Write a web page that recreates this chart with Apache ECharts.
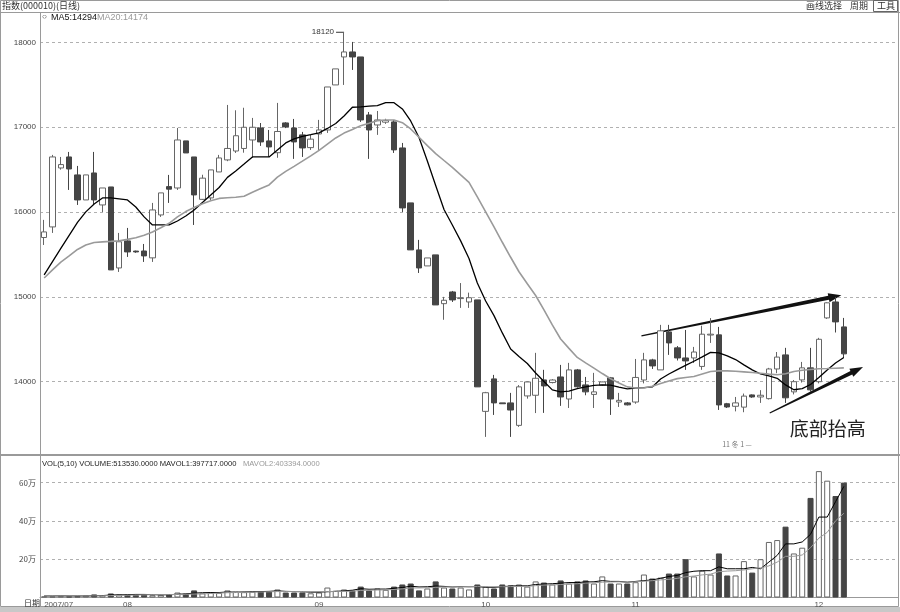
<!DOCTYPE html>
<html><head><meta charset="utf-8">
<script src="https://cdn.jsdelivr.net/npm/echarts@6/dist/echarts.min.js"></script>
<style>html,body{margin:0;padding:0;background:#fff}#c{width:900px;height:612px}</style>
</head><body><div id="c"></div>
<script>
// ---- categories (trading days) ----
const monthDays = [
  ['07', [18,19,20,23,24,25,26,27,30,31]],
  ['08', [1,2,3,6,7,8,9,10,13,14,15,16,17,20,21,22,23,24,27,28,29,30,31]],
  ['09', [3,4,5,6,7,10,11,12,13,14,17,18,19,20,21,24,25,26,27,28]],
  ['10', [8,9,10,11,12,15,16,17,18,19,22,23,24,25,26,29,30,31]],
  ['11', [1,2,5,6,7,8,9,12,13,14,15,16,19,20,21,22,23,26,27,28,29,30]],
  ['12', [3,4,5,6]]
];
// ---- price data ----
const openP  = [15700,15825,16520,16650,16438,16143,16461,16084,16296,15341,15660,15540,15541,15460,15966,16300,16284,16839,16650,16150,16167,16473,16615,16720,16750,16850,16992,16839,16700,17051,16992,16910,16760,16921,16968,17499,17829,17888,17829,17145,17027,17060,17063,16756,16108,15554,15365,15495,14920,15058,14980,14940,14964,13650,14033,13750,13750,13485,13832,13840,14021,13990,14056,13796,14139,13962,13850,13960,14045,13760,13750,13760,14020,14257,14139,14587,14399,14280,14280,14180,14550,14552,13740,13710,13700,13844,13820,13800,14150,14316,13880,14021,14163,14000,14752,14940,14646];
const closeP = [15766,16650,16560,16508,16143,16438,16143,16284,15318,15650,15530,15530,15483,16025,16226,16270,16850,16697,16202,16400,16497,16638,16750,16900,17000,17000,16827,16768,16950,17004,16827,16756,16860,16968,17475,17688,17888,17829,17086,16968,17086,17080,16733,16049,15554,15341,15459,14905,14960,14964,14990,14990,13939,13870,13750,13740,13666,13939,13997,14040,13950,14020,13820,14139,13940,13880,13880,13997,13796,13780,13727,14050,14257,14186,14600,14457,14280,14245,14350,14560,14560,13726,13702,13750,13830,13820,13840,14150,14290,13810,14000,14163,13904,14500,14930,14705,14328];
const highP  = [15908,16674,16650,16709,16544,16438,16709,16284,16296,15754,15813,15545,15624,16108,16226,16438,16992,16839,16650,16440,16497,16674,17263,17200,17230,17110,17050,16968,17287,17060,17098,16945,16910,17087,17475,17688,18120,18006,17829,17180,17192,17100,17086,16815,16108,15672,15459,15495,15000,15070,15163,15050,14964,13880,14080,13750,13868,13960,14000,14340,14140,14030,14198,14222,14150,14056,14104,14000,14056,13868,13760,14268,14340,14270,14670,14670,14420,14610,14410,14660,14750,14646,13750,13820,13860,13850,13900,14163,14350,14399,14020,14233,14399,14517,14935,15000,14752];
const lowP   = [15612,15754,16500,16261,16084,16143,16084,16001,15318,15294,15471,15520,15412,15412,15943,16108,16261,16697,15848,16143,16143,16473,16600,16697,16700,16640,16780,16650,16640,16990,16627,16650,16733,16733,16933,17499,17499,17676,17063,16627,16910,17040,16697,16001,15554,15282,15365,14905,14730,14940,14870,14870,13939,13349,13608,13740,13349,13467,13800,13630,13632,13980,13715,13690,13930,13840,13690,13950,13608,13702,13720,13740,13980,14150,14139,14316,14250,14139,14220,14140,14457,13667,13690,13650,13640,13810,13750,13790,14100,13750,13850,13990,13880,13980,14740,14580,14280];
const ma5  = [15259,15416,15571,15726,15878,16002,16096,16167,16167,16155,16143,16060,15943,15848,15848,15848,15895,15954,16025,16113,16202,16290,16409,16485,16567,16650,16650,16650,16733,16815,16862,16892,16912,16933,16986,17044,17133,17236,17240,17248,17254,17290,17290,17216,17074,16880,16603,16314,16030,15848,15660,15453,15164,14952,14779,14575,14386,14298,14215,14103,14002,13903,13879,13888,13918,13940,13956,13962,13960,13936,13915,13923,13930,13938,14032,14091,14142,14192,14241,14292,14345,14339,14304,14261,14198,14139,14091,14068,14040,13962,13905,13919,13967,14049,14139,14221,14286];
const ma20 = [15223,15318,15410,15483,15559,15612,15642,15649,15654,15660,15678,15697,15727,15766,15815,15868,15943,16006,16053,16098,16134,16161,16168,16174,16187,16234,16277,16320,16411,16480,16539,16600,16662,16728,16801,16874,16931,16974,17019,17048,17078,17086,17086,17054,16980,16882,16783,16690,16608,16527,16438,16350,16180,16003,15825,15644,15467,15296,15155,15016,14846,14669,14503,14393,14286,14222,14160,14096,14035,13985,13939,13926,13926,13946,13978,14008,14036,14050,14061,14091,14120,14127,14127,14123,14116,14108,14099,14089,14081,14094,14121,14134,14143,14152,14155,14159,14163];
// ---- volume data ----
const volume = [6000,5000,7000,6000,8000,10000,16000,12000,21000,16000,15000,14000,15000,12000,14000,18000,26000,20000,37000,22000,26000,24000,37000,30000,28000,31000,31000,31000,42000,26000,26000,26000,22000,26000,52000,35000,42000,37000,57000,37000,47000,40000,57000,68000,73000,37000,47000,84000,52000,47000,52000,42000,68000,57000,47000,68000,63000,68000,57000,84000,78000,68000,89000,73000,84000,89000,73000,110000,73000,73000,73000,80000,120000,99000,104000,125000,125000,200000,110000,140000,120000,230000,115000,115000,190000,130000,200000,290000,300000,370000,230000,260000,520000,660000,610000,530000,600000];
const mavol1 = [8000,8000,8500,8000,8000,8000,9000,10000,13000,14000,15000,16000,16000,15000,14000,14500,17000,19000,23000,25000,26000,26000,29000,28000,29000,30000,31000,32000,35000,32000,31000,30000,28000,28000,30000,32000,35000,38000,46000,43000,44000,44000,48000,52000,59000,55000,56000,60000,58000,55000,57000,56000,57000,53000,53000,56000,60000,61000,61000,68000,70000,72000,75000,78000,78000,81000,82000,88000,84000,84000,80000,84000,88000,92000,100000,110000,115000,130000,137000,140000,140000,160000,150000,150000,150000,157000,150000,185000,220000,280000,280000,290000,330000,420000,420000,500000,580000];
const mavol2 = [8000,8000,8000,8000,8000,8000,8500,9000,10000,11000,12000,13000,14000,15000,15000,15000,16000,17000,18000,19000,21000,23000,25000,26000,27000,28000,29000,30000,31000,31000,31000,31000,31000,31000,31000,32000,32000,33000,37000,38000,39000,40000,42000,45000,50000,50000,51000,53000,55000,56000,56000,57000,57000,56000,56000,56000,57000,58000,58000,62000,65000,66000,68000,70000,72000,75000,77000,80000,81000,82000,80000,82000,85000,88000,92000,95000,100000,108000,112000,118000,122000,135000,138000,140000,144000,150000,155000,165000,185000,215000,215000,222000,260000,310000,340000,400000,440000];
// ---- axis ticks ----
const priceTicks = [14000,15000,16000,17000,18000];
const volTicks = [200000,400000,600000];
// ---- annotations (data coordinates: [category index, value]) ----
const arrowTop = [[71.7,14540],[95.7,15020]];
const arrowLow = [[87.1,13631],[98.3,14174]];
const noteText = {text:'底部抬高', at:[89.5,13443]};
const smallNote = {text:'11 冬 1 —', at:[81.4,13266]};

const N_CAT = 103;
const cats = [];
monthDays.forEach(([m, days]) => days.forEach(d => cats.push('2007/' + m + '/' + String(d).padStart(2,'0'))));
while (cats.length < N_CAT) cats.push('');
const monthStart = new Set();
cats.forEach((c,i) => { if (c && (i === 0 || c.slice(0,7) !== cats[i-1].slice(0,7))) monthStart.add(i); });

const candleData = openP.map((o,i) => [o, closeP[i], lowP[i], highP[i]]);
const volData = volume.map((v,i) => ({
  value: v,
  itemStyle: closeP[i] >= openP[i] ? {color:'#fff', borderColor:'#666', borderWidth:1} : {color:'#454545', borderColor:'#454545', borderWidth:1}
}));

const FONT = 'Liberation Sans';
const chart = echarts.init(document.getElementById('c'), null, {renderer:'canvas'});
const dashed = {lineStyle:{color:'#b0b0b0', type:[3,3], width:1}};
chart.setOption({
  animation:false,
  backgroundColor:'#fff',
  grid:[
    {left:40, width:858, top:17, height:449.5},
    {left:40, width:858, top:457.7, height:139.8}
  ],
  xAxis:[
    {type:'category', data:cats, gridIndex:0, boundaryGap:true, axisLine:{show:false}, axisTick:{show:false}, axisLabel:{show:false}, splitLine:{show:false}},
    {type:'category', data:cats, gridIndex:1, boundaryGap:true, axisLine:{show:true, lineStyle:{color:'#999'}}, axisTick:{show:false},
     axisLabel:{show:true, fontSize:8, fontFamily:FONT, color:'#555', margin:3, alignMinLabel:'left',
       interval:(i) => monthStart.has(i),
       formatter:(v,i) => i === 0 ? v.slice(0,7) : v.slice(5,7)},
     splitLine:{show:false}}
  ],
  yAxis:[
    {type:'value', gridIndex:0, min:13000, max:18300, interval:1000, axisLine:{show:false}, axisTick:{show:false},
     axisLabel:{fontSize:8, fontFamily:FONT, color:'#444', margin:4, formatter:v => priceTicks.includes(v) ? String(v) : ''},
     splitLine:Object.assign({show:true, showMinLine:false, showMaxLine:false}, dashed)},
    {type:'value', gridIndex:1, min:0, max:730000, interval:200000, axisLine:{show:false}, axisTick:{show:false},
     axisLabel:{fontSize:8, fontFamily:'Noto Sans CJK SC', color:'#444', margin:4, formatter:v => volTicks.includes(v) ? (v/10000) + '万' : ''},
     splitLine:Object.assign({show:true, showMinLine:false, showMaxLine:false}, dashed)}
  ],
  series:[
    {type:'candlestick', xAxisIndex:0, yAxisIndex:0, data:candleData, barWidth:6,
     itemStyle:{color:'#fff', color0:'#454545', borderColor:'#666', borderColor0:'#454545', borderWidth:1}},
    {type:'line', xAxisIndex:0, yAxisIndex:0, data:ma5, symbol:'none', lineStyle:{color:'#000', width:1.3}, z:3},
    {type:'line', xAxisIndex:0, yAxisIndex:0, data:ma20, symbol:'none', lineStyle:{color:'#9a9a9a', width:1.6}, z:3},
    {type:'bar', xAxisIndex:1, yAxisIndex:1, data:volData, barWidth:6},
    {type:'line', xAxisIndex:1, yAxisIndex:1, data:mavol1, symbol:'none', lineStyle:{color:'#000', width:1}, z:3},
    {type:'line', xAxisIndex:1, yAxisIndex:1, data:mavol2, symbol:'none', lineStyle:{color:'#9a9a9a', width:1}, z:3}
  ]
});

function toPx(idx, val) {
  const i0 = Math.floor(idx), f = idx - i0;
  const a = chart.convertToPixel({xAxisIndex:0, yAxisIndex:0}, [i0, val]);
  const b = chart.convertToPixel({xAxisIndex:0, yAxisIndex:0}, [i0 + 1, val]);
  return [a[0] + f * (b[0] - a[0]), a[1]];
}
function arrowPoly(p0, p1, w0, w1, headLen, headW) {
  const dx = p1[0]-p0[0], dy = p1[1]-p0[1], L = Math.hypot(dx, dy);
  const ux = dx/L, uy = dy/L, nx = -uy, ny = ux;
  const bx = p1[0]-ux*headLen, by = p1[1]-uy*headLen;
  return [[p0[0]+nx*w0/2, p0[1]+ny*w0/2],[bx+nx*w1/2, by+ny*w1/2],[bx+nx*headW/2, by+ny*headW/2],p1,
          [bx-nx*headW/2, by-ny*headW/2],[bx-nx*w1/2, by-ny*w1/2],[p0[0]-nx*w0/2, p0[1]-ny*w0/2]];
}
let maxIdx = 0;
highP.forEach((h,i) => { if (h > highP[maxIdx]) maxIdx = i; });
const pMax = toPx(maxIdx, highP[maxIdx]);
const a1 = arrowPoly(toPx(...arrowTop[0]), toPx(...arrowTop[1]), 1.2, 4, 13, 9);
const a2 = arrowPoly(toPx(...arrowLow[0]), toPx(...arrowLow[1]), 1.2, 4, 13, 9);
const pNote = toPx(...noteText.at);
const pSmall = toPx(...smallNote.at);

const G = '#9a9a9a';
const graphics = [
  {type:'rect', shape:{x:0.5, y:0.5, width:898, height:606}, style:{fill:null, stroke:G, lineWidth:1}, silent:true, z:-1},
  {type:'line', shape:{x1:0, y1:12.5, x2:900, y2:12.5}, style:{stroke:G, lineWidth:1}},
  {type:'line', shape:{x1:40.5, y1:12, x2:40.5, y2:608}, style:{stroke:G, lineWidth:1}},
  {type:'line', shape:{x1:0, y1:455, x2:900, y2:455}, style:{stroke:G, lineWidth:2}},
  {type:'rect', shape:{x:0, y:607, width:900, height:5}, style:{fill:'#c8c8c8'}},
  {type:'text', x:2, y:1, style:{text:'指数(000010)(日线)', font:'9px "Noto Sans CJK SC"', fill:'#333'}},
  {type:'text', x:806, y:1, style:{text:'画线选择', font:'9px "Noto Sans CJK SC"', fill:'#333'}},
  {type:'text', x:850, y:1, style:{text:'周期', font:'9px "Noto Sans CJK SC"', fill:'#333'}},
  {type:'rect', shape:{x:873.5, y:0.5, width:24, height:11}, style:{fill:null, stroke:'#666'}},
  {type:'text', x:877, y:1, style:{text:'工具', font:'9px "Noto Sans CJK SC"', fill:'#333'}},
  {type:'text', x:42, y:13, style:{text:'○', font:'8px ' + FONT, fill:'#333'}},
  {type:'text', x:51, y:13, style:{text:'MA5:14294', font:'9px ' + FONT, fill:'#111'}},
  {type:'text', x:97, y:13, style:{text:'MA20:14174', font:'9px ' + FONT, fill:'#999'}},
  {type:'text', x:42, y:460, style:{text:'VOL(5,10) VOLUME:513530.0000 MAVOL1:397717.0000', font:'7.6px ' + FONT, fill:'#222'}},
  {type:'text', x:243, y:460, style:{text:'MAVOL2:403394.0000', font:'7.6px ' + FONT, fill:'#999'}},
  {type:'text', x:24, y:599, style:{text:'日期', font:'8px "Noto Sans CJK SC"', fill:'#333'}},
  {type:'line', shape:{x1:pMax[0]-8, y1:pMax[1], x2:pMax[0], y2:pMax[1]}, style:{stroke:'#333', lineWidth:1}},
  {type:'text', x:pMax[0]-10, y:pMax[1], style:{text:String(highP[maxIdx]), font:'8px ' + FONT, fill:'#333', align:'right', verticalAlign:'middle'}},
  {type:'polygon', shape:{points:a1}, style:{fill:'#111'}},
  {type:'polygon', shape:{points:a2}, style:{fill:'#111'}},
  {type:'text', x:pNote[0], y:pNote[1], style:{text:noteText.text, font:'19px "Noto Sans CJK SC"', fill:'#222', align:'left', verticalAlign:'middle'}},
  {type:'text', x:pSmall[0], y:pSmall[1], style:{text:smallNote.text, font:'7px "Noto Sans CJK SC"', fill:'#777', align:'left', verticalAlign:'middle'}}
];
chart.setOption({graphic:graphics});
</script></body></html>
